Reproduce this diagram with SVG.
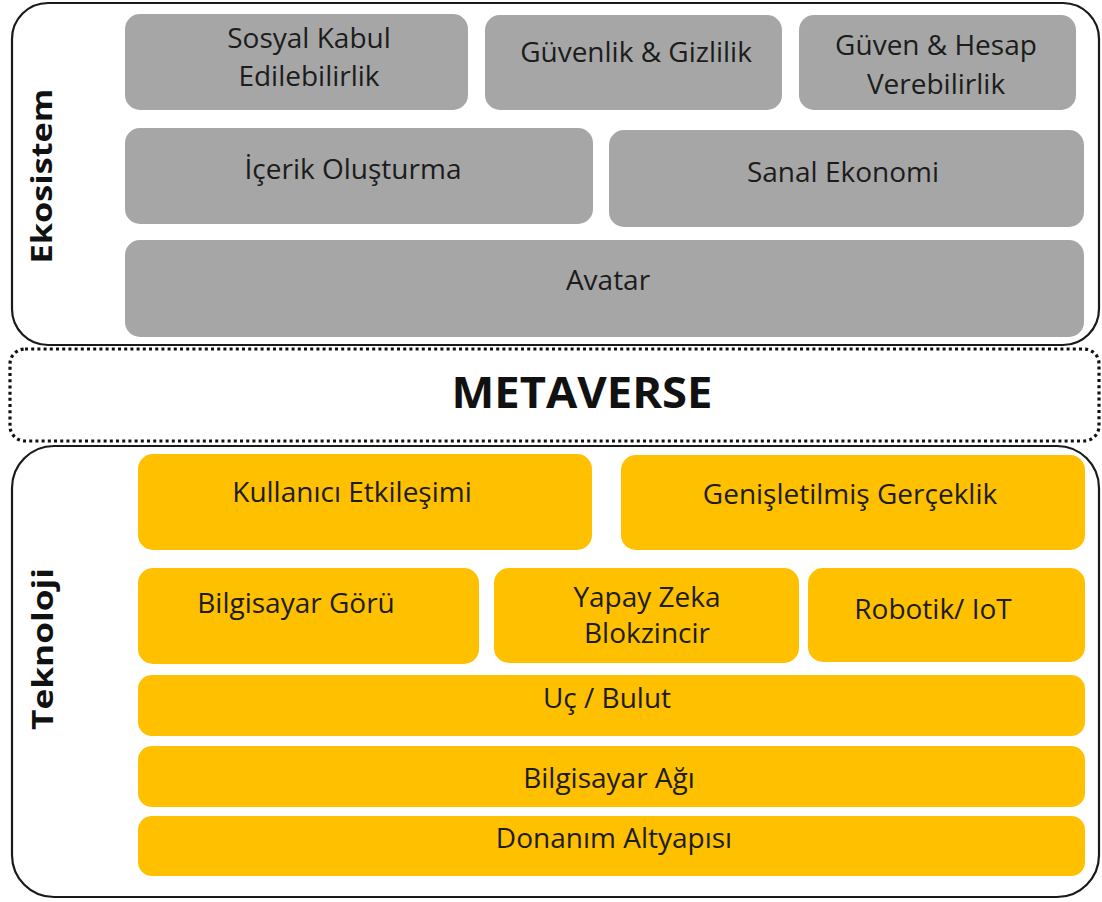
<svg xmlns="http://www.w3.org/2000/svg" width="1102" height="902" viewBox="0 0 1102 902">
<style>
.frame{fill:#ffffff;stroke:#1a1a1a;stroke-width:2.2}
.dotted{fill:#ffffff;stroke:#111;stroke-width:3.2;stroke-dasharray:3 3.2}
.g{fill:#a6a6a6}
.y{fill:#ffc000}
.t{font-family:"Open Sans","DejaVu Sans",sans-serif;font-size:28px;fill:#1c1c1c;text-anchor:middle}
.side{font-family:"Open Sans","DejaVu Sans",sans-serif;font-size:29px;font-weight:bold;fill:#111;text-anchor:middle}
.meta{font-family:"Open Sans","DejaVu Sans",sans-serif;font-size:43px;font-weight:bold;fill:#111;text-anchor:middle}
</style>
<rect width="1102" height="902" fill="#ffffff"/>
<g id="ekosistem-frame">
<rect class="frame" x="12" y="3" width="1087" height="342" rx="36" ry="36"/>
<text class="side" transform="translate(52,176) rotate(-90)" textLength="175" lengthAdjust="spacingAndGlyphs">Ekosistem</text>
</g>
<g id="sosyal-kabul">
<rect class="g" x="125" y="14" width="343" height="96" rx="15"/>
<text class="t" x="309" y="48">Sosyal Kabul</text>
<text class="t" x="309" y="86">Edilebilirlik</text>
</g>
<g id="guvenlik-gizlilik">
<rect class="g" x="485" y="15" width="297" height="95" rx="15"/>
<text class="t" x="636" y="62">Güvenlik &amp; Gizlilik</text>
</g>
<g id="guven-hesap">
<rect class="g" x="799" y="15" width="277" height="95" rx="15"/>
<text class="t" x="936" y="55">Güven &amp; Hesap</text>
<text class="t" x="936" y="94">Verebilirlik</text>
</g>
<g id="icerik-olusturma">
<rect class="g" x="125" y="128" width="468" height="96" rx="15"/>
<text class="t" x="353" y="179">İçerik Oluşturma</text>
</g>
<g id="sanal-ekonomi">
<rect class="g" x="609" y="130" width="475" height="97" rx="15"/>
<text class="t" x="843" y="182">Sanal Ekonomi</text>
</g>
<g id="avatar">
<rect class="g" x="125" y="240" width="959" height="97" rx="15"/>
<text class="t" x="608" y="290">Avatar</text>
</g>
<g id="metaverse">
<rect class="dotted" x="10" y="349" width="1089" height="92" rx="15"/>
<text class="meta" x="582" y="408" textLength="261" lengthAdjust="spacingAndGlyphs">METAVERSE</text>
</g>
<g id="teknoloji-frame">
<rect class="frame" x="12" y="446" width="1087" height="451" rx="42" ry="42"/>
<text class="side" transform="translate(53,649) rotate(-90)" textLength="162" lengthAdjust="spacingAndGlyphs">Teknoloji</text>
</g>
<g id="kullanici-etkilesimi">
<rect class="y" x="138" y="454" width="454" height="96" rx="15"/>
<text class="t" x="352" y="502">Kullanıcı Etkileşimi</text>
</g>
<g id="genisletilmis-gerceklik">
<rect class="y" x="621" y="455" width="464" height="95" rx="15"/>
<text class="t" x="850" y="504">Genişletilmiş Gerçeklik</text>
</g>
<g id="bilgisayar-goru">
<rect class="y" x="138" y="568" width="341" height="96" rx="15"/>
<text class="t" x="296" y="613">Bilgisayar Görü</text>
</g>
<g id="yapay-zeka-blokzincir">
<rect class="y" x="494" y="568" width="305" height="95" rx="15"/>
<text class="t" x="647" y="607">Yapay Zeka</text>
<text class="t" x="647" y="643">Blokzincir</text>
</g>
<g id="robotik-iot">
<rect class="y" x="808" y="568" width="277" height="94" rx="15"/>
<text class="t" x="933" y="619">Robotik/ IoT</text>
</g>
<g id="uc-bulut">
<rect class="y" x="138" y="675" width="947" height="61" rx="14"/>
<text class="t" x="607" y="708">Uç / Bulut</text>
</g>
<g id="bilgisayar-agi">
<rect class="y" x="138" y="746" width="947" height="61" rx="14"/>
<text class="t" x="609" y="788">Bilgisayar Ağı</text>
</g>
<g id="donanim-altyapisi">
<rect class="y" x="138" y="816" width="947" height="60" rx="14"/>
<text class="t" x="614" y="848">Donanım Altyapısı</text>
</g>
<g id="connectors"></g>
</svg>
